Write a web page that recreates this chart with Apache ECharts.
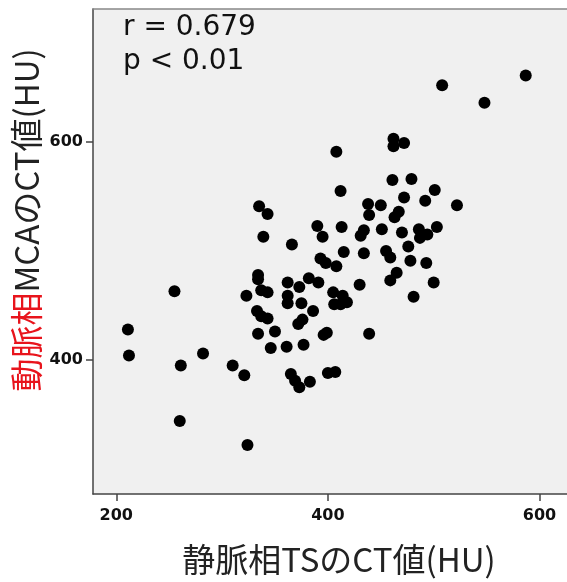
<!DOCTYPE html>
<html>
<head>
<meta charset="utf-8">
<script src="https://cdn.jsdelivr.net/npm/echarts@6/dist/echarts.min.js"></script>
<style>
  html, body { margin: 0; padding: 0; background: #fff; }
  #chart { width: 567px; height: 582px; }
</style>
</head>
<body>
<div id="chart"></div>
<script>
// 静脈相TS CT値 (x) vs 動脈相MCA CT値 (y)
const tsCT = [
  508, 548, 587, 408, 462, 462, 472, 461, 479, 412,
  501, 472, 492, 522, 438, 450, 439, 467, 463, 335,
  343, 339, 366, 390, 395, 413, 434, 431, 451, 470,
  486, 487, 494, 503, 415, 434, 455, 459, 476, 393,
  398, 408, 478, 493, 465, 459, 500, 430, 481, 334,
  334, 323, 337, 343, 362, 373, 382, 391, 362, 362,
  375, 386, 405, 414, 406, 412, 418, 333, 337, 343,
  376, 372, 334, 350, 396, 399, 439, 255, 211, 346,
  361, 377, 212, 261, 282, 310, 321, 365, 369, 373,
  383, 400, 407, 260, 324
];
const mcaCT = [
  652, 636, 661, 591, 603, 596, 599, 565, 566, 555,
  556, 549, 546, 542, 543, 542, 533, 536, 531, 541,
  534, 513, 506, 523, 513, 522, 519, 514, 520, 517,
  520, 512, 515, 522, 499, 498, 500, 494, 504, 493,
  489, 486, 491, 489, 480, 473, 471, 469, 458, 478,
  474, 459, 464, 462, 471, 467, 475, 471, 459, 452,
  452, 445, 462, 459, 451, 451, 453, 445, 440, 438,
  437, 433, 424, 426, 423, 425, 424, 463, 428, 411,
  412, 414, 404, 395, 406, 395, 386, 387, 381, 375,
  380, 388, 389, 344, 322
];
const xTicks = [200, 400, 600];
const yTicks = [400, 600];

const points = tsCT.map((v, i) => [v, mcaCT[i]]);

const tickFont = {
  color: '#111', fontSize: 16, fontWeight: 'bold', fontFamily: 'DejaVu Sans'
};

const chart = echarts.init(document.getElementById('chart'));
chart.setOption({
  animation: false,
  grid: {
    left: 93, top: 9, width: 480, height: 485,
    show: true,
    backgroundColor: '#f0f0f0',
    borderWidth: 0
  },
  xAxis: [{
    type: 'value',
    min: 178, max: 626,
    axisLine: { show: true, lineStyle: { color: '#444', width: 1.5 } },
    axisTick: { show: true, length: 7, customValues: xTicks, lineStyle: { color: '#444', width: 1.5 } },
    axisLabel: Object.assign({ customValues: xTicks, margin: 14 }, tickFont),
    splitLine: { show: false }
  }, {
    // top frame line only
    type: 'value', position: 'top',
    min: 178, max: 626,
    axisLine: { show: true, lineStyle: { color: '#888', width: 1.5 } },
    axisTick: { show: false },
    axisLabel: { show: false },
    splitLine: { show: false }
  }],
  yAxis: {
    type: 'value',
    min: 277, max: 722,
    axisLine: { show: true, lineStyle: { color: '#444', width: 1.5 } },
    axisTick: { show: true, length: 7, customValues: yTicks, lineStyle: { color: '#444', width: 1.5 } },
    axisLabel: Object.assign({ customValues: yTicks, margin: 10 }, tickFont),
    splitLine: { show: false }
  },
  series: [{
    type: 'scatter',
    data: points,
    symbol: 'circle',
    symbolSize: 12,
    itemStyle: { color: '#000', opacity: 1 }
  }],
  graphic: [
    {
      type: 'text', left: 123, top: 14, z: 10,
      style: { text: 'r = 0.679', fill: '#111', font: '28px "DejaVu Sans"' }
    },
    {
      type: 'text', left: 123, top: 48, z: 10,
      style: { text: 'p < 0.01', fill: '#111', font: '28px "DejaVu Sans"' }
    },
    {
      type: 'text', x: 339, y: 559,
      style: {
        text: '静脈相TSのCT値(HU)', fill: '#222',
        font: '33px "Noto Sans CJK JP"',
        align: 'center', verticalAlign: 'middle'
      }
    },
    {
      type: 'text', x: 26, y: 220, rotation: Math.PI / 2,
      style: {
        text: '{r|動脈相}{b|MCAのCT値(HU)}',
        align: 'center', verticalAlign: 'middle',
        rich: {
          r: { fill: '#e8141c', fontSize: 33, fontFamily: 'Noto Sans CJK JP' },
          b: { fill: '#222', fontSize: 33, fontFamily: 'Noto Sans CJK JP' }
        }
      }
    }
  ]
});
</script>
</body>
</html>
